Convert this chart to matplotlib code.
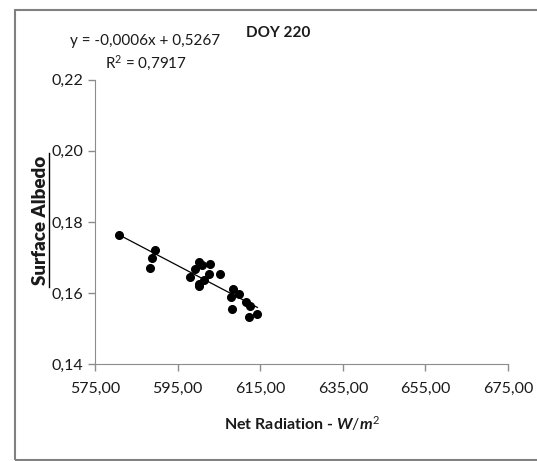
import matplotlib
matplotlib.use("Agg")
import matplotlib.pyplot as plt
import numpy as np
from matplotlib.lines import Line2D
from matplotlib.patches import Rectangle

# ---------------------------------------------------------------------------
# Data
# ---------------------------------------------------------------------------
net_radiation = [580.9, 589.4, 588.7, 588.4, 600.1, 600.9, 602.9, 599.2,
                 602.5, 598.1, 601.4, 600.1, 600.1, 605.2, 608.4, 608.0,
                 609.8, 608.2, 611.6, 612.6, 612.3, 614.3]
albedo = [0.1764, 0.1721, 0.1699, 0.1671, 0.1688, 0.1678, 0.1682, 0.1667,
          0.1655, 0.1646, 0.1637, 0.1626, 0.1619, 0.1654, 0.1612, 0.1589,
          0.1597, 0.1554, 0.1575, 0.1563, 0.1532, 0.1540]

x_ticks = [575, 595, 615, 635, 655, 675]
y_ticks = [0.14, 0.16, 0.18, 0.20, 0.22]

title = "DOY 220"
eq_text = "y = -0,0006x + 0,5267"
r2_text = "R$^2$ = 0,7917"
x_label = "Net Radiation - $\\mathit{W/m}^2$"
y_label = "Surface Albedo"

FONT = "Lato"
plt.rcParams["font.family"] = [FONT, "DejaVu Sans"]
plt.rcParams["mathtext.fontset"] = "custom"
plt.rcParams["mathtext.rm"] = FONT
plt.rcParams["mathtext.it"] = FONT + ":italic:bold"
plt.rcParams["mathtext.bf"] = FONT + ":bold"

grey = "#8c8c8c"
txt = "#1a1a1a"

fig = plt.figure(figsize=(5.37, 4.61), dpi=100)
ax = fig.add_axes([0.177, 0.21, 0.769, 0.617])

# scatter + linear trendline
ax.plot(net_radiation, albedo, "o", color="black", markersize=5.5)
slope, intercept = np.polyfit(net_radiation, albedo, 1)
xs = np.array([min(net_radiation), max(net_radiation)])
ax.plot(xs, slope * xs + intercept, color="black", linewidth=0.9)

ax.set_xlim(575, 675)
ax.set_ylim(0.14, 0.22)
ax.set_xticks(x_ticks)
ax.set_yticks(y_ticks)
ax.set_xticklabels([f"{v:.2f}".replace(".", ",") for v in x_ticks])
ax.set_yticklabels([f"{v:.2f}".replace(".", ",") for v in y_ticks])
ax.tick_params(colors=grey, labelcolor=txt, labelsize=11.5,
               direction="out", length=5, width=1)
ax.tick_params(axis="x", pad=8)

for side in ["top", "right"]:
    ax.spines[side].set_visible(False)
for side in ["left", "bottom"]:
    ax.spines[side].set_color(grey)

fig.text(0.562, 0.082, x_label, fontsize=11.5, fontweight="bold", color=txt,
         ha="center", va="center")

# y label, bold and underlined
fig.text(0.076, 0.523, y_label, rotation=90, fontsize=13.5,
         fontweight="heavy", color=txt, ha="center", va="center")
fig.add_artist(Line2D([0.091, 0.091], [0.377, 0.668], color="black",
                      linewidth=1, transform=fig.transFigure))

fig.text(0.518, 0.928, title, fontsize=11, fontweight="bold", color=txt,
         ha="center", va="center")
fig.text(0.270, 0.911, eq_text, fontsize=11, color=txt,
         ha="center", va="center")
fig.text(0.272, 0.863, r2_text, fontsize=11, color=txt,
         ha="center", va="center")

# chart area border
fig.add_artist(Rectangle((0.028, 0.003), 1.2, 0.976, fill=False,
                         edgecolor="#808080", linewidth=1.5,
                         transform=fig.transFigure))

fig.savefig("out.png", dpi=100)
